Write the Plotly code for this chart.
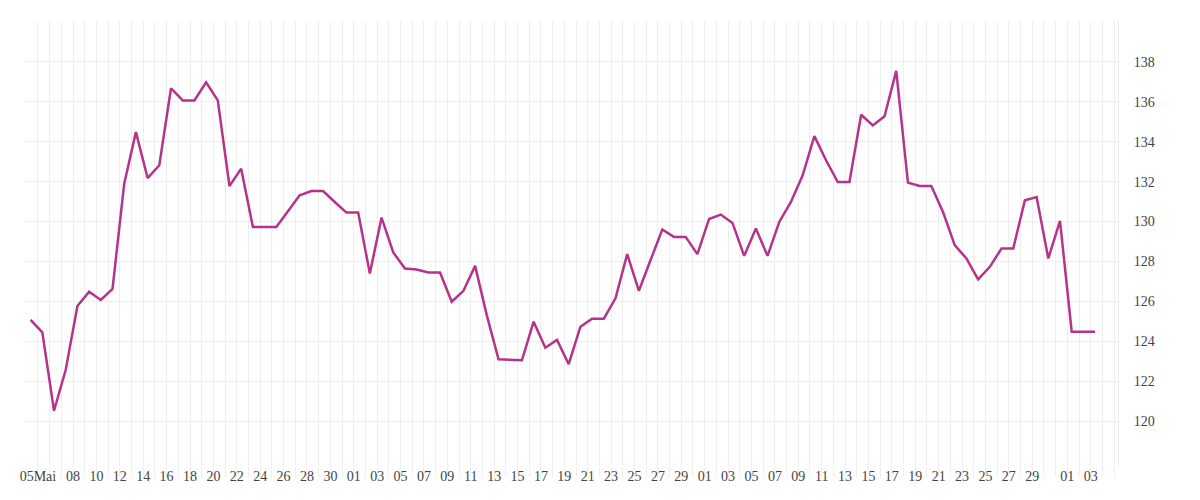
import pandas as pd
import plotly.graph_objects as go

# daily values, 4 May - 3 Aug
dates = pd.date_range('2023-05-04 09:00', periods=92, freq='D')
values = [
    125.07, 124.45, 120.52, 122.57, 125.77, 126.48, 126.07, 126.62, 131.9, 134.48,
    132.18, 132.82, 136.68, 136.07, 136.07, 136.98, 136.07, 131.78, 132.65, 129.73,
    129.73, 129.73, 130.52, 131.32, 131.53, 131.53, 130.98, 130.45, 130.45, 127.4,
    130.2, 128.45, 127.65, 127.6, 127.45, 127.45, 125.98, 126.53, 127.78, 125.3,
    123.1, 123.08, 123.05, 124.98, 123.68, 124.07, 122.85, 124.73, 125.13, 125.13,
    126.15, 128.37, 126.53, 128.07, 129.6, 129.23, 129.23, 128.37, 130.13, 130.35,
    129.93, 128.28, 129.65, 128.28, 129.98, 130.98, 132.32, 134.28, 133.07, 131.98,
    131.98, 135.35, 134.82, 135.28, 137.55, 131.95, 131.78, 131.78, 130.48, 128.82,
    128.15, 127.1, 127.73, 128.65, 128.65, 131.07, 131.23, 128.15, 130.03, 124.48,
    124.48, 124.48,
]

tick_dates = (['2023-05-05'] + [f'2023-05-{d:02d}' for d in range(8, 31, 2)]
              + [f'2023-06-{d:02d}' for d in range(1, 30, 2)]
              + [f'2023-07-{d:02d}' for d in range(1, 30, 2)]
              + ['2023-08-01', '2023-08-03'])
tick_text = ['05Mai'] + [d[-2:] for d in tick_dates[1:]]

y_ticks = list(range(120, 141, 2))
y_text = [str(v) for v in y_ticks[:-1]] + ['']

grid = '#eeeeee'
fig = go.Figure(go.Scatter(x=dates, y=values, mode='lines',
                           line=dict(color='#b5338a', width=2.5), hoverinfo='x+y'))

fig.update_layout(
    width=1200, height=500, showlegend=False,
    paper_bgcolor='white', plot_bgcolor='white',
    margin=dict(l=15, r=90, t=13, b=42),
    font=dict(family='Liberation Serif', size=14, color='#444444'),
)
fig.update_xaxes(
    type='date', range=['2023-05-03 23:30', '2023-08-05 08:00'],
    tickmode='array', tickvals=tick_dates, ticktext=tick_text, tickangle=0,
    showgrid=False, zeroline=False, showline=False, ticks='',
    minor=dict(tick0='2023-05-04', dtick=86400000, showgrid=True, gridcolor=grid,
               gridwidth=1, ticks='outside', ticklen=10, tickcolor=grid),
)
fig.update_yaxes(
    side='right', range=[117.75, 140.05],
    tickmode='array', tickvals=y_ticks, ticktext=y_text,
    showgrid=True, gridcolor=grid, gridwidth=1, zeroline=False,
    showline=True, linecolor=grid, ticks='', ticklabelstandoff=12,
)

fig.write_html('out.html')
